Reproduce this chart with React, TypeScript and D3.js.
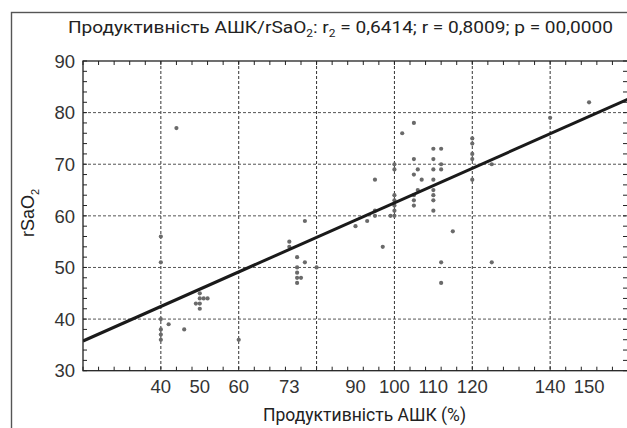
import React from "react";
import * as d3 from "d3";

// Data
const productivity = [
  40, 40, 40, 40, 40, 40, 42, 44, 46,
  49, 50, 50, 50, 50, 51, 52, 60,
  73, 73, 75, 75, 75, 75, 76, 75, 77, 77, 80,
  90, 93, 95, 95, 95, 97,
  99, 100, 100, 100, 100, 100, 100, 100,
  102, 105, 105, 105, 105, 105, 105, 106, 106, 107,
  110, 110, 110, 110, 110, 110, 110, 110,
  112, 112, 112, 112, 112, 115,
  120, 120, 120, 120, 120, 125, 125, 140, 150,
];
const rSaO2 = [
  56, 51, 40, 38, 37, 36, 39, 77, 38,
  43, 45, 44, 43, 42, 44, 44, 36,
  55, 54, 52, 50, 49, 48, 48, 47, 59, 51, 50,
  58, 59, 60, 61, 67, 54,
  60, 60, 61, 62, 63, 64, 69, 70,
  76, 78, 71, 68, 64, 63, 62, 69, 65, 67,
  73, 71, 69, 67, 65, 64, 63, 61,
  73, 70, 69, 51, 47, 57,
  75, 74, 72, 71, 67, 70, 51, 79, 82,
];
const xTickLabels = [40, 50, 60, 73, 90, 100, 110, 120, 140, 150];
const xGrid = [40, 60, 80, 100, 120, 140];
const yTickLabels = [30, 40, 50, 60, 70, 80, 90];
const yGrid = [40, 50, 60, 70, 80];
const regression = { intercept: 29.06, slope: 0.3346 };

const W = 627;
const H = 428;
const left = 83;
const right = 628;
const top = 61;
const bottom = 370.7;

export default function App() {
  const x = d3.scaleLinear().domain([20, 160]).range([left, right]);
  const y = d3.scaleLinear().domain([30, 90]).range([bottom, top]);
  const xMinor = d3.range(20, 161, 4);
  const yMinor = d3.range(30, 91, 2);
  const lineGen = d3
    .line<number>()
    .x((d) => x(d))
    .y((d) => y(regression.intercept + regression.slope * d));
  const tickFont = "'Liberation Sans', Arial, sans-serif";
  const titleFont = "Roboto, 'Liberation Sans', sans-serif";

  return (
    <svg
      width={W}
      height={H}
      viewBox={`0 0 ${W} ${H}`}
      style={{ position: "absolute", left: 0, top: 0, background: "#fff" }}
    >
      <defs>
        <clipPath id="plot">
          <rect x={left} y={top} width={right - left} height={bottom - top} />
        </clipPath>
      </defs>
      {/* outer frame */}
      <rect x={11.5} y={12.5} width={700} height={500} fill="none" stroke="#555" strokeWidth={1.4} />

      {/* title */}
      <text
        x={68}
        y={33}
        fontFamily={titleFont}
        fontWeight={400}
        fontSize={16}
        fill="#222"
        textLength={545}
        lengthAdjust="spacingAndGlyphs"
      >
        Продуктивність АШК/rSaO
        <tspan fontSize={10} dy={4}>2</tspan>
        <tspan dy={-4}>: r</tspan>
        <tspan fontSize={10} dy={4}>2</tspan>
        <tspan dy={-4}> = 0,6414; r = 0,8009; p = 00,0000</tspan>
      </text>

      {/* grid */}
      {xGrid.map((v) => (
        <line key={"gx" + v} x1={x(v)} x2={x(v)} y1={top} y2={bottom} stroke="#333" strokeWidth={1} strokeDasharray="3,2" />
      ))}
      {yGrid.map((v) => (
        <line key={"gy" + v} x1={left} x2={right} y1={y(v)} y2={y(v)} stroke="#555" strokeWidth={1} strokeDasharray="3,2" />
      ))}

      {/* points */}
      {productivity.map((v, i) => (
        <circle key={"p" + i} cx={x(v)} cy={y(rSaO2[i])} r={2.1} fill="#6a6a6a" />
      ))}

      {/* regression line */}
      <path d={lineGen([20, 160]) || ""} fill="none" stroke="#1a1a1a" strokeWidth={3} clipPath="url(#plot)" />

      {/* axes box */}
      <rect x={left} y={top} width={right - left} height={bottom - top} fill="none" stroke="#222" strokeWidth={1.3} />
      {xMinor.map((v) => (
        <g key={"tx" + v}>
          <line x1={x(v)} x2={x(v)} y1={bottom} y2={bottom - 4} stroke="#222" strokeWidth={1} />
          <line x1={x(v)} x2={x(v)} y1={top} y2={top + 4} stroke="#222" strokeWidth={1} />
        </g>
      ))}
      {yMinor.map((v) => (
        <g key={"ty" + v}>
          <line x1={left} x2={left + 4} y1={y(v)} y2={y(v)} stroke="#222" strokeWidth={1} />
          <line x1={right - 5} x2={right} y1={y(v)} y2={y(v)} stroke="#222" strokeWidth={1} />
        </g>
      ))}

      {/* tick labels */}
      {xTickLabels.map((v) => (
        <text key={"lx" + v} x={x(v)} y={393} textAnchor="middle" fontFamily={tickFont} fontSize={18.5} fill="#333">
          {v}
        </text>
      ))}
      {yTickLabels.map((v) => (
        <text key={"ly" + v} x={75} y={y(v)} dy="0.36em" textAnchor="end" fontFamily={tickFont} fontSize={18.5} fill="#333">
          {v}
        </text>
      ))}

      {/* axis titles */}
      <text
        x={364.5}
        y={421}
        textAnchor="middle"
        fontFamily={titleFont}
        fontWeight={400}
        fontSize={18}
        fill="#222"
        textLength={203}
        lengthAdjust="spacingAndGlyphs"
      >
        Продуктивність АШК (%)
      </text>
      <text
        transform="translate(34,237) rotate(-90)"
        fontFamily={tickFont}
        fontSize={18}
        fill="#222"
      >
        rSaO<tspan fontSize={11} dy={5}>2</tspan>
      </text>
    </svg>
  );
}
